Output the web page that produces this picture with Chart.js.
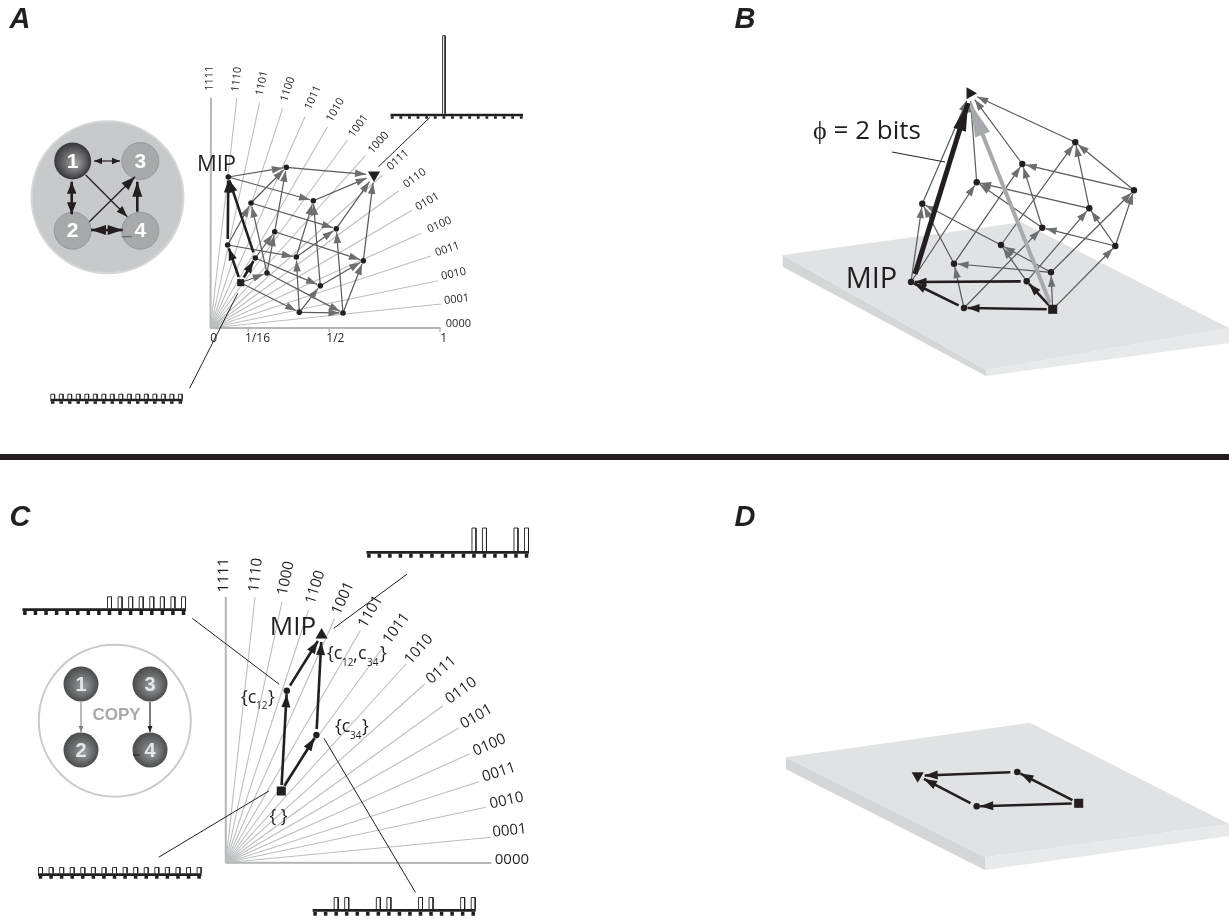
<!DOCTYPE html>
<html>
<head>
<meta charset="utf-8">
<title>Qualia space panels</title>
<script src="https://cdn.jsdelivr.net/npm/chart.js@4/dist/chart.umd.js"></script>
<style>
html, body { margin: 0; padding: 0; background: #fff; }
canvas { display: block; }
</style>
</head>
<body>
<canvas id="fig" width="1229" height="920"></canvas>
<script>
// node order in both cubes: start, 4 one-bit, 6 two-bit, 4 three-bit, top
const cubeA = [[240.7,282.7],[227.7,245],[255.3,258],[267,273],[299.3,312.3],[228.3,177],[251,203],[274.7,231.7],[296.3,257],[320.3,285.7],[343,313],[286.3,167.3],[313.3,200.7],[336.3,228.7],[363.3,260.7],[374,175]];
const cubeB = [[1052.7,309.3],[964,308],[1026.7,281.3],[1051,272.3],[1115.3,246],[911,282],[954,263.7],[1001,245],[1042.3,227.7],[1089.3,208.3],[1134,190.3],[922.3,203.7],[976.7,182.3],[1022.3,164],[1075.3,142.3],[970,93.3]];
const cubeThick = [[0,1],[0,2],[1,5],[2,5]];
const cubeThin = [[0,3],[0,4],[1,6],[1,8],[2,7],[2,9],[3,6],[3,7],[3,10],[4,8],[4,9],[4,10],[5,11],[5,12],[6,11],[6,13],[7,11],[7,14],[8,12],[8,13],[9,12],[9,14],[10,13],[10,14],[11,15],[12,15],[13,15],[14,15]];

// start, {c12}, {c34}, top
const cubeC = [[281.3,791],[286.8,690.7],[316.4,735],[321.6,635]];
const cubeD = [[1078.7,803.3],[1017.3,772],[976.7,806.3],[917.7,775.7]];
const smallEdges = [[0,1],[0,2],[1,3],[2,3]];

const statesA = ['1111','1110','1101','1100','1011','1010','1001','1000','0111','0110','0101','0100','0011','0010','0001','0000'];
const statesC = ['1111','1110','1000','1100','1001','1101','1011','1010','0111','0110','0101','0100','0011','0010','0001','0000'];
const originA = [210.5,328];
const originC = [225.8,862.7];
const rayEndsA = [[211,97.7],[236.8,98.3],[259.6,102.7],[282.7,108.3],[305,116.7],[327.5,126.7],[347.5,140],[365.4,155.7],[382.6,175],[398.8,190.7],[412.6,210],[421.2,233.3],[430.9,256],[437.8,280.7],[441.2,304],[440.5,328]];
const rayEndsC = [[225.8,596.7],[255,597.3],[282,601.7],[308.5,610],[334.4,619],[360.2,630.7],[383.3,646.7],[406,664],[424.7,684],[443,705.7],[458.5,728.3],[469.5,754],[479.1,781.7],[486,807.3],[491.2,837.3],[491.2,863]];
const labelPosA = [[209.6,78.3],[236.8,79.3],[262,83.3],[287.8,89.3],[313,97.7],[335.4,110],[358.5,126],[378.5,142.7],[398,160],[414.7,178.3],[427.4,201.7],[439.5,225],[447.4,249.3],[453.6,274],[456.7,299.3],[458.4,324]];
const labelPosC = [[224,575],[255.8,575],[286,578.3],[315.4,587.3],[343,598.3],[370.6,611.7],[396.4,628.3],[418.8,649.3],[441.2,670],[461.2,690.7],[476.4,716.7],[489.5,745],[499,772.3],[506.7,800.7],[509.5,830.7],[511.9,859.3]];

// probability over the 16 states
const histATop = [0,0,0,0,0,0,1,0,0,0,0,0,0,0,0,0];
const histABottom = [1/16,1/16,1/16,1/16,1/16,1/16,1/16,1/16,1/16,1/16,1/16,1/16,1/16,1/16,1/16,1/16];
const histCTop = [0,0,0,0,0,0,0,0,0,0,1/4,1/4,0,0,1/4,1/4];
const histCLeft = [0,0,0,0,0,0,0,0,1/8,1/8,1/8,1/8,1/8,1/8,1/8,1/8];
const histCStart = histABottom;
const histCBottom = [0,0,1/8,1/8,0,0,1/8,1/8,0,0,1/8,1/8,0,0,1/8,1/8];

const tickValuesA = [[248.2,'1/16'],[329.2,'1/2'],[440,'1']];

const leadersA = [[430,117.3,378.5,166.7],[237.8,293.3,189.6,388.3]];
const leadersC = [[406.8,574.3,333.7,628.3],[192.3,618.3,279.2,684.3],[158.6,857.3,268.9,791],[415.4,892.3,324,738.3]];
const leaderPhi = [[892,152],[945,162]];

const plateB = { top: [[782.7,255],[1021.7,222.3],[1229,328],[986,370]], left: [[782.7,255],[986,370],[986,376],[782.7,266.7]], front: [[986,370],[1229,328],[1229,343],[986,376]] };
const plateD = { top: [[786,757.3],[1030,722.7],[1229,824],[985,857.3]], left: [[786,757.3],[985,857.3],[985,870],[786,769.3]], front: [[985,857.3],[1229,824],[1229,836],[985,870]] };

const datasets = [];
const texts = [];
const INK = '#231f20';

function addLine(points, width, color, extra) {
  datasets.push(Object.assign({
    data: points.map(p => p ? { x: p[0], y: p[1] } : { x: NaN, y: NaN }),
    showLine: true, borderColor: color, borderWidth: width, pointRadius: 0, tension: 0, fill: false
  }, extra || {}));
}
function addPoly(points, color) {
  addLine(points.concat([points[0]]), 0, color, { fill: 'shape', backgroundColor: color });
}
function addPoints(points, style, radius, color, extra) {
  datasets.push(Object.assign({
    data: points.map(p => ({ x: p[0], y: p[1] })),
    showLine: false, pointStyle: style, pointRadius: radius, pointBackgroundColor: color, pointBorderWidth: 0
  }, extra || {}));
}
function addArrow(from, to, s, startTrim, endTrim) {
  const dx = to[0] - from[0], dy = to[1] - from[1], len = Math.hypot(dx, dy);
  const a = [from[0] + dx * startTrim / len, from[1] + dy * startTrim / len];
  const b = [to[0] - dx * endTrim / len, to[1] - dy * endTrim / len];
  addLine([a, b], s.w, s.c, { head: { len: s.hl, wid: s.hw, color: s.hc } });
}
function addText(str, x, y, font, color, rot, align) {
  texts.push({ str, x, y, font, color: color || INK, rot: rot || 0, align: align || 'center' });
}

const thin = { w: 1.2, c: '#58595b', hc: '#6d6e71', hl: 11, hw: 7.5 };
const thick = { w: 2.6, c: INK, hc: INK, hl: 12, hw: 8.5 };
const motifSmall = { w: 1.2, c: INK, hc: INK, hl: 8, hw: 6.5 };
const motifDiag1 = { w: 1.3, c: INK, hc: INK, hl: 11, hw: 8 };
const motifDiag2 = { w: 1.3, c: INK, hc: INK, hl: 14, hw: 10 };
const motifThick = { w: 2.6, c: INK, hc: INK, hl: 12, hw: 9.5 };
const motifWide = { w: 2.6, c: INK, hc: INK, hl: 15, hw: 10 };

function addRays(origin, ends, names, labelPos, size) {
  ends.forEach((e, i) => {
    const edge = i === 0 || i === ends.length - 1;
    addLine([origin, e], edge ? 2 : 1.1, edge ? '#b5b6b8' : '#bcbec0');
    const lp = labelPos[i];
    const rot = Math.atan2(lp[1] - origin[1], lp[0] - origin[0]);
    addText(names[i], lp[0], lp[1], size + 'px "Open Sans"', '#231f20', i === ends.length - 1 ? 0 : rot);
  });
}
function addHist(values, x0, x1, yTop, yBot, toothBot, unit, barW) {
  const step = (x1 - x0 - barW) / 15;
  addLine([[x0, (yTop + yBot) / 2], [x1, (yTop + yBot) / 2]], yBot - yTop, INK);
  const teeth = [], bars = [];
  values.forEach((v, i) => {
    const l = x0 + i * step, r = l + barW;
    teeth.push([(l + r) / 2, yBot], [(l + r) / 2, toothBot], null);
    if (v > 0) bars.push([l + .5, yTop], [l + .5, yTop - v * unit], [r - .5, yTop - v * unit], [r - .5, yTop], null);
  });
  addLine(teeth, Math.min(barW * .8, 3.5), INK);
  addLine(bars, .9, INK);
}
function addCube(nodes, thickList, thinList, dot, sq, triRot, thickStyle) {
  thinList.forEach(e => addArrow(nodes[e[0]], nodes[e[1]], thin, 0, e[1] === nodes.length - 1 ? 8 : 3.5));
  thickList.forEach(e => addArrow(nodes[e[0]], nodes[e[1]], thickStyle, 6, e[1] === nodes.length - 1 ? 8 : 3.5));
  addPoints(nodes.slice(1, -1), 'circle', dot, INK);
  addPoints([nodes[0]], 'rect', sq, INK);
  addPoints([nodes[nodes.length - 1]], 'triangle', 7, INK, { pointRotation: triRot });
}
function addPlate(p) {
  addPoly(p.left, '#d5d6d8');
  addPoly(p.front, '#e8e9ea');
  addPoly(p.top, '#e1e2e4');
}
function shaded(inner, outer, r) {
  return ctx => {
    if (!ctx.parsed) return outer;
    const sx = ctx.chart.scales.x.getPixelForValue(ctx.parsed.x);
    const sy = ctx.chart.scales.y.getPixelForValue(ctx.parsed.y);
    if (!isFinite(sx) || !isFinite(sy)) return outer;
    const g = ctx.chart.ctx.createRadialGradient(sx + 3, sy + 3, 1, sx, sy, r);
    g.addColorStop(0, inner);
    g.addColorStop(1, outer);
    return g;
  };
}

// ---- panel A
addPoints([[107.5,197.3]], 'circle', 76, '#c8c9cb', { pointBorderWidth: 2, pointBorderColor: '#d6d7d9' });
addPoints([[140.3,161],[72.7,230.7],[140.3,230.7]], 'circle', 18.5, '#a7a9ac', { pointBorderWidth: .6, pointBorderColor: '#808285' });
addPoints([[72.7,161]], 'circle', 18.5, shaded('#a0a1a3', '#3a3a3c', 18));
addArrow([107.3,161], [120,161], motifSmall, 0, 0);
addArrow([107.3,161], [94,161], motifSmall, 0, 0);
addArrow([71.7,198], [71.7,181.7], motifThick, 0, 0);
addArrow([71.7,198], [71.7,214.3], motifThick, 0, 0);
addArrow([85.7,175], [127.3,216.7], motifDiag1, 0, 0);
addArrow([89.3,221.7], [135,176.7], motifDiag2, 0, 0);
addArrow([137.3,211.7], [137.3,181.7], motifWide, 0, 0);
addArrow([107,230], [91,230], motifWide, 0, 0);
addArrow([107,230], [122.7,230], motifWide, 0, 0);
addLine([[121.7,236.7],[131.7,236.7]], 1, '#58595b');
[['1',72.7,162],['3',140.3,162],['2',72.7,231.5],['4',140.3,231.5]].forEach(n => addText(n[0], n[1], n[2], 'bold 21px "Liberation Sans"', '#ffffff'));

addRays(originA, rayEndsA, statesA, labelPosA, 11);
tickValuesA.forEach(t => addLine([[t[0], 328], [t[0], 332]], 1.5, '#b5b6b8'));
addText('0', 213.7, 339, '12px "Open Sans"');
addText('1/16', 257.5, 339, '12px "Open Sans"');
addText('1/2', 335.4, 339, '12px "Open Sans"');
addText('1', 443.6, 339, '12px "Open Sans"');
leadersA.forEach(l => addLine([[l[0], l[1]], [l[2], l[3]]], 1, INK));
addHist(histATop, 390.5, 523, 113.7, 116.3, 118.7, 78, 3.5);
addHist(histABottom, 50.3, 182.7, 398.7, 401.3, 403.7, 72, 4.8);
addCube(cubeA, cubeThick, cubeThin, 2.8, 5, 180, thick);
addText('MIP', 216.5, 165, '22px "Open Sans"');

// ---- panel B
addPlate(plateB);
addCube(cubeB, cubeThick, cubeThin, 3.2, 6.4, 90, thick);
addArrow([1050,303], [970,103], { w: 4, c: '#a7a9ac', hc: '#a7a9ac', hl: 34, hw: 16 }, 0, 0);
addArrow([915,274], [968,103], { w: 5, c: INK, hc: INK, hl: 28, hw: 13 }, 0, 0);
addLine(leaderPhi, 1, INK);
addText('\u03d5 = 2 bits', 867, 132, '26px "Open Sans"');
addText('MIP', 871.5, 280, '29px "Open Sans"');

// ---- panel C
addPoints([[114.8,720.7]], 'circle', 76, 'rgba(255,255,255,0)', { pointBorderWidth: 2, pointBorderColor: '#c8c9cb' });
addPoints([[81,684],[150,684],[81,750],[150,750]], 'circle', 17.5, shaded('#98999b', '#4a4b4d', 17.5));
addArrow([81,702], [81,732], { w: 1.1, c: '#808285', hc: '#808285', hl: 6, hw: 5 }, 0, 0);
addArrow([150,702], [150,732], { w: 1.2, c: INK, hc: INK, hl: 6, hw: 5 }, 0, 0);
addLine([[133,755],[140,755]], 1, INK);
[['1',81,685],['3',150,685],['2',81,751],['4',150,751]].forEach(n => addText(n[0], n[1], n[2], 'bold 20px "Liberation Sans"', '#e6e7e8'));
addText('COPY', 116.5, 715, 'bold 17px "Liberation Sans"', '#a7a9ac');

addRays(originC, rayEndsC, statesC, labelPosC, 15);
leadersC.forEach(l => addLine([[l[0], l[1]], [l[2], l[3]]], 1, INK));
addHist(histCTop, 366.4, 529, 551, 553.7, 557.7, 92, 5);
addHist(histCLeft, 22.4, 186, 608.3, 611, 615, 92, 5);
addHist(histCStart, 38, 201.6, 873.3, 876, 878.7, 92, 5);
addHist(histCBottom, 312.6, 475.7, 909, 911.7, 915.7, 92, 5);
addCube(cubeC, [], [], 3.2, 6.4, 0, thick);
smallEdges.forEach(e => addArrow(cubeC[e[0]], cubeC[e[1]], { w: 2.6, c: INK, hc: INK, hl: 13, hw: 9 }, 6, e[1] === 3 ? 7 : 3.5));
addText('MIP', 293, 627.7, '26px "Open Sans"');
const sub = '10px "Open Sans"', brace = '18px "Open Sans"';
addText('{c', 241, 698, brace, INK, 0, 'left');
addText('12', 256, 706, sub, INK, 0, 'left');
addText('}', 268, 698, brace, INK, 0, 'left');
addText('{c', 327, 654, brace, INK, 0, 'left');
addText('12', 342, 663, sub, INK, 0, 'left');
addText(',', 353, 656, brace, INK, 0, 'left');
addText('c', 358, 654, brace, INK, 0, 'left');
addText('34', 367, 663, sub, INK, 0, 'left');
addText('}', 380, 654, brace, INK, 0, 'left');
addText('{c', 335, 727, brace, INK, 0, 'left');
addText('34', 350, 736, sub, INK, 0, 'left');
addText('}', 362, 727, brace, INK, 0, 'left');
addText('{ }', 278.5, 817, brace);

// ---- panel D
addPlate(plateD);
addCube(cubeD, [], [], 3.3, 6.4, 180, thick);
smallEdges.forEach(e => addArrow(cubeD[e[0]], cubeD[e[1]], { w: 2.6, c: INK, hc: INK, hl: 13, hw: 9 }, 7, e[1] === 3 ? 7 : 3.5));

// ---- frame
addLine([[0,457],[1229,457]], 6, INK);
addText('A', 20, 20, 'italic bold 29px "Liberation Sans"');
addText('B', 745, 20, 'italic bold 29px "Liberation Sans"');
addText('C', 20, 518, 'italic bold 29px "Liberation Sans"');
addText('D', 745, 518, 'italic bold 29px "Liberation Sans"');

datasets.forEach((d, i) => { d.order = -i; });

const arrowHeads = {
  id: 'arrowHeads',
  afterDatasetDraw(chart, args) {
    const d = chart.data.datasets[args.index];
    if (!d.head) return;
    const sx = chart.scales.x, sy = chart.scales.y, c = chart.ctx;
    const p = d.data.map(v => [sx.getPixelForValue(v.x), sy.getPixelForValue(v.y)]);
    const ang = Math.atan2(p[1][1] - p[0][1], p[1][0] - p[0][0]);
    c.save();
    c.translate(p[1][0], p[1][1]);
    c.rotate(ang);
    c.fillStyle = d.head.color;
    c.beginPath();
    c.moveTo(0, 0);
    c.lineTo(-d.head.len, d.head.wid / 2);
    c.lineTo(-d.head.len, -d.head.wid / 2);
    c.closePath();
    c.fill();
    c.restore();
  }
};
const figureText = {
  id: 'figureText',
  afterDraw(chart) {
    const sx = chart.scales.x, sy = chart.scales.y, c = chart.ctx;
    texts.forEach(t => {
      c.save();
      c.translate(sx.getPixelForValue(t.x), sy.getPixelForValue(t.y));
      c.rotate(t.rot);
      c.font = t.font;
      c.fillStyle = t.color;
      c.textAlign = t.align;
      c.textBaseline = 'middle';
      c.fillText(t.str, 0, 0);
      c.restore();
    });
  }
};

new Chart(document.getElementById('fig'), {
  type: 'scatter',
  data: { datasets },
  plugins: [arrowHeads, figureText],
  options: {
    responsive: false,
    animation: false,
    events: [],
    layout: { padding: 0, autoPadding: false },
    plugins: { legend: { display: false }, tooltip: { enabled: false } },
    scales: {
      x: { type: 'linear', min: 0, max: 1229, display: false },
      y: { type: 'linear', min: 0, max: 920, reverse: true, display: false }
    }
  }
});
</script>
</body>
</html>
